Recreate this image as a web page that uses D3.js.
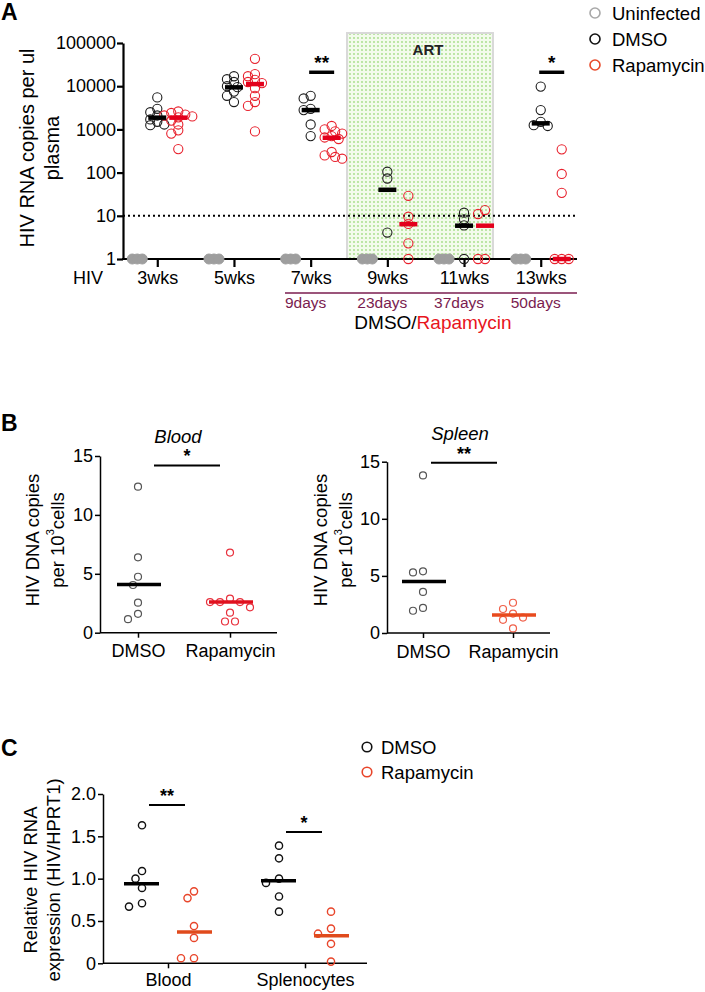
<!DOCTYPE html>
<html>
<head>
<meta charset="utf-8">
<script src="https://cdn.jsdelivr.net/npm/d3@7"></script>
<style>
  body { margin: 0; background: #fff; }
  svg { font-family: "Liberation Sans", Arial, Helvetica, sans-serif; }
</style>
</head>
<body>
<svg id="fig" width="705" height="992"></svg>
<script>
// ---- panel A : plasma viral load (log scale)
var weeks = ['3wks', '5wks', '7wks', '9wks', '11wks', '13wks'];
var artDays = ['9days', '23days', '37days', '50days'];
var decadeTicks = [1, 10, 100, 1000, 10000, 100000];
var limitA = 10;
var uninfA = [[1, 1, 1], [1, 1, 1], [1, 1, 1], [1, 1, 1], [1, 1, 1], [1, 1, 1]];
var dmsoA = [
  [5500, 3000, 2500, 2100, 1700, 1500, 1300, 1250],
  [17000, 14500, 12500, 10000, 9500, 7500, 6000, 4300],
  [6000, 5200, 3000, 2800, 1300, 700],
  [105, 73, 4.1],
  [11.8, 8.3, 6, 1],
  [9800, 2800, 1500, 1250, 1200]
];
var rapaA = [
  [2600, 2400, 2200, 2100, 2000, 1900, 1600, 1300, 950, 800, 350],
  [43000, 19000, 17000, 14000, 12500, 11800, 9000, 6000, 4300, 3500, 900],
  [1200, 1000, 900, 800, 700, 650, 600, 300, 250, 230, 210],
  [29, 9.5, 6.5, 2.3, 1],
  [13.6, 11, 1, 1],
  [345, 93, 34, 1, 1, 1]
];
var dmsoMedA = [1870, 9400, 2800, 40, 5.9, 1380];
var rapaMedA = [1870, 11200, 640, 6.4, 5.9, 1];
var sigA = [{ at: '7wks', mark: '**', v: 21000 }, { at: '13wks', mark: '*', v: 21000 }];

// ---- panel B : HIV DNA
var groupsB = ['DMSO', 'Rapamycin'];
var ticksB = [0, 5, 10, 15];
var bloodDmso = [12.4, 6.4, 4.75, 4.05, 2.55, 1.6, 1.15];
var bloodRapa = [6.8, 2.9, 2.6, 2.6, 2.6, 2.15, 1.7, 0.95, 0.95];
var spleenDmso = [13.8, 5.4, 5.3, 3.6, 2.2, 1.95];
var spleenRapa = [2.65, 2.1, 1.7, 1.35, 1.15, 0.4];
var bloodMed = [4.1, 2.6];
var spleenMed = [4.5, 1.57];
var bloodSig = { mark: '*', v: 14.2 };
var spleenSig = { mark: '**', v: 14.9 };

// ---- panel C : relative HIV RNA
var cats = ['Blood', 'Splenocytes'];
var ticksC = [0, 0.5, 1, 1.5, 2];
var dmsoC = [[1.63, 1.09, 1.0, 0.89, 0.71, 0.67], [1.39, 1.24, 1.0, 0.95, 0.79, 0.61]];
var rapaC = [[0.85, 0.77, 0.44, 0.30, 0.06, 0.06], [0.61, 0.41, 0.35, 0.23, 0.02]];
var dmsoMedC = [0.94, 0.975];
var rapaMedC = [0.37, 0.325];
var sigC = [{ mark: '**', v: 1.87 }, { mark: '*', v: 1.55 }];

var purple = '#7a1c4f';
var svg = d3.select('#fig');

// simple deterministic beeswarm: spread points sideways when they overlap
function swarm(vals, y, cx, minDist, step) {
  var pts = [];
  vals.forEach(function (v) {
    var py = y(v), px = cx;
    for (var i = 0; i < 60; i++) {
      var off = i === 0 ? 0 : Math.ceil(i / 2) * step * (i % 2 ? -1 : 1);
      px = cx + off;
      var ok = pts.every(function (p) { return Math.hypot(p.x - px, p.y - py) >= minDist; });
      if (ok) break;
    }
    pts.push({ x: px, y: py });
  });
  return pts;
}

function dots(g, pts, r, color, sw) {
  g.selectAll(null).data(pts).enter().append('circle')
    .attr('cx', function (d) { return d.x; })
    .attr('cy', function (d) { return d.y; })
    .attr('r', r)
    .attr('fill', 'none')
    .attr('stroke', color)
    .attr('stroke-width', sw);
}

function styleAxis(g, size, sw) {
  g.attr('font-size', null).attr('font-family', null);
  g.selectAll('text').attr('font-size', size).attr('fill', '#000');
  g.selectAll('line').attr('stroke', '#000').attr('stroke-width', sw);
  g.select('.domain').attr('stroke', '#000').attr('stroke-width', sw);
}

function rotLabel(lines, xs, cy, size) {
  lines.forEach(function (l, i) {
    var t = svg.append('text')
      .attr('transform', 'translate(' + xs[i] + ',' + cy + ') rotate(-90)')
      .attr('text-anchor', 'middle')
      .attr('dominant-baseline', 'central')
      .attr('font-size', size);
    l(t);
  });
}

function letter(txt, y) {
  svg.append('text').attr('x', 1).attr('y', y).attr('font-size', 23)
    .attr('font-weight', 'bold').text(txt);
}

// ================= A =================
letter('A', 20);
var xA = d3.scalePoint().domain(weeks).range([122, 576]).padding(0.46);
var yA = d3.scaleLog().domain([1, 100000]).range([259, 43]);

var defs = svg.append('defs');
var pat = defs.append('pattern').attr('id', 'artdots')
  .attr('width', 4).attr('height', 4).attr('patternUnits', 'userSpaceOnUse');
pat.append('rect').attr('width', 4).attr('height', 4).attr('fill', '#f3fbec');
pat.append('circle').attr('cx', 2).attr('cy', 2).attr('r', 0.9).attr('fill', '#a3dd85');

svg.append('rect')
  .attr('x', 347).attr('y', 33).attr('width', 146).attr('height', yA(1) - 33)
  .attr('fill', 'url(#artdots)').attr('stroke', '#d9d9d9').attr('stroke-width', 2);
svg.append('text').attr('x', 428).attr('y', 55).attr('text-anchor', 'middle')
  .attr('font-size', 15).attr('font-weight', 'bold').attr('fill', '#222').text('ART');

svg.append('line')
  .attr('x1', 123).attr('x2', 578).attr('y1', yA(limitA)).attr('y2', yA(limitA))
  .attr('stroke', '#000').attr('stroke-width', 2).attr('stroke-dasharray', '2,3');

var gyA = svg.append('g').attr('transform', 'translate(123,0)')
  .call(d3.axisLeft(yA).tickValues(decadeTicks).tickFormat(d3.format('d'))
    .tickSize(6).tickPadding(1).tickSizeOuter(0));
styleAxis(gyA, 18, 2.2);

var gxA = svg.append('g').attr('transform', 'translate(0,' + yA(1) + ')')
  .call(d3.axisBottom(xA).tickSize(8).tickPadding(4.5).tickSizeOuter(0));
styleAxis(gxA, 18, 2.2);
gxA.select('.domain').attr('d', 'M122,0H577');

svg.append('text').attr('x', 88).attr('y', 284).attr('text-anchor', 'middle')
  .attr('font-size', 18).text('HIV');

rotLabel([
  function (t) { t.text('HIV RNA copies per ul'); },
  function (t) { t.text('plasma'); }
], [27, 52], 148, 20);

weeks.forEach(function (w, i) {
  var cx = xA(w);
  // uninfected: stacked at the detection floor
  var ug = svg.append('g');
  uninfA[i].forEach(function (v, j) {
    ug.append('circle').attr('cx', cx - 20 + (j - 1) * 5).attr('cy', yA(v)).attr('r', 5)
      .attr('fill', '#9e9e9e').attr('stroke', '#9e9e9e');
  });
  dots(svg.append('g'), swarm(dmsoA[i], yA, cx, 5.5, 3.5), 4.6, '#1c1c1c', 1.1);
  dots(svg.append('g'), swarm(rapaA[i], yA, cx + 21, 5.5, 3.5), 4.6, '#e8202c', 1.1);
  svg.append('line').attr('x1', cx - 9).attr('x2', cx + 9)
    .attr('y1', yA(dmsoMedA[i])).attr('y2', yA(dmsoMedA[i]))
    .attr('stroke', '#000').attr('stroke-width', 4.5);
  svg.append('line').attr('x1', cx + 12).attr('x2', cx + 30)
    .attr('y1', yA(rapaMedA[i])).attr('y2', yA(rapaMedA[i]))
    .attr('stroke', '#e3001b').attr('stroke-width', 4.5);
});

sigA.forEach(function (s) {
  var c = xA(s.at) + 11;
  svg.append('line').attr('x1', c - 12.5).attr('x2', c + 12.5)
    .attr('y1', yA(s.v)).attr('y2', yA(s.v)).attr('stroke', '#000').attr('stroke-width', 3.5);
  svg.append('text').attr('x', c).attr('y', yA(s.v) - 3).attr('text-anchor', 'middle')
    .attr('font-size', 19).attr('font-weight', 'bold').text(s.mark);
});

// ART timeline under the axis
svg.append('line').attr('x1', 285).attr('x2', 577).attr('y1', 293).attr('y2', 293)
  .attr('stroke', purple).attr('stroke-width', 1.6);
artDays.forEach(function (d, i) {
  svg.append('text').attr('x', xA(weeks[i + 2]) - 5).attr('y', 308)
    .attr('text-anchor', 'middle').attr('font-size', 15.5).attr('fill', purple).text(d);
});
var dr = svg.append('text').attr('x', 433).attr('y', 329).attr('text-anchor', 'middle')
  .attr('font-size', 19);
dr.append('tspan').attr('fill', '#000').text('DMSO/');
dr.append('tspan').attr('fill', '#e8141c').text('Rapamycin');

// legend A
[['Uninfected', '#a8a8a8'], ['DMSO', '#111'], ['Rapamycin', '#e84a2a']].forEach(function (l, i) {
  var y = 13 + i * 26;
  svg.append('circle').attr('cx', 595).attr('cy', y).attr('r', 5)
    .attr('fill', 'none').attr('stroke', l[1]).attr('stroke-width', 1.6);
  svg.append('text').attr('x', 612).attr('y', y).attr('dominant-baseline', 'central')
    .attr('font-size', 18.5).text(l[0]);
});

// ================= B =================
letter('B', 431);

function panelB(o) {
  var x = d3.scalePoint().domain(groupsB).range(o.xr);
  var y = d3.scaleLinear().domain([0, 15]).range(o.yr);
  var gy = svg.append('g').attr('transform', 'translate(' + o.ax + ',0)')
    .call(d3.axisLeft(y).tickValues(ticksB).tickSize(5).tickPadding(2).tickSizeOuter(0));
  styleAxis(gy, 18, 1.5);
  var gx = svg.append('g').attr('transform', 'translate(0,' + y(0) + ')')
    .call(d3.axisBottom(x).tickSize(5).tickPadding(7).tickSizeOuter(0));
  styleAxis(gx, 18, 1.5);
  gx.select('.domain').attr('d', 'M' + o.ax + ',0H' + o.xEnd);

  dots(svg.append('g'), swarm(o.dmso, y, x('DMSO'), 9, 5), 3.5, '#555', 1.2);
  dots(svg.append('g'), swarm(o.rapa, y, x('Rapamycin'), 9, 5), 3.5, o.red, 1.2);
  [[o.med[0], x('DMSO') + 1, '#000'], [o.med[1], x('Rapamycin') + 1, o.redLine]].forEach(function (m) {
    svg.append('line').attr('x1', m[1] - 22).attr('x2', m[1] + 22)
      .attr('y1', y(m[0])).attr('y2', y(m[0])).attr('stroke', m[2]).attr('stroke-width', 3.5);
  });
  var c = (x('DMSO') + x('Rapamycin')) / 2 + o.sigShift;
  svg.append('line').attr('x1', c - 33).attr('x2', c + 33)
    .attr('y1', y(o.sig.v)).attr('y2', y(o.sig.v)).attr('stroke', '#000').attr('stroke-width', 2);
  svg.append('text').attr('x', c).attr('y', y(o.sig.v) - 3).attr('text-anchor', 'middle')
    .attr('font-size', 18).attr('font-weight', 'bold').text(o.sig.mark);
  svg.append('text').attr('x', o.titleX).attr('y', o.titleY).attr('text-anchor', 'middle')
    .attr('font-size', 18.5).attr('font-style', 'italic').text(o.title);

  rotLabel([
    function (t) { t.text('HIV DNA copies'); },
    function (t) {
      t.append('tspan').text('per 10');
      t.append('tspan').attr('font-size', 11).attr('dy', -7).text('3');
      t.append('tspan').attr('dy', 7).text('cells');
    }
  ], o.labX, 540, 18.5);
}

panelB({
  xr: [138, 230], yr: [632.7, 456], ax: 100, xEnd: 277,
  dmso: bloodDmso, rapa: bloodRapa, med: bloodMed, sig: bloodSig, sigShift: 3,
  red: '#e8303c', redLine: '#e0101e', title: 'Blood', titleX: 178, titleY: 443, labX: [32, 57]
});
panelB({
  xr: [423, 513], yr: [633, 461.7], ax: 387, xEnd: 550,
  dmso: spleenDmso, rapa: spleenRapa, med: spleenMed, sig: spleenSig, sigShift: -4,
  red: '#f0604a', redLine: '#e84a1e', title: 'Spleen', titleX: 460, titleY: 440, labX: [320, 345]
});

// ================= C =================
letter('C', 756);
var xC = d3.scalePoint().domain(cats).range([168, 305]);
var yC = d3.scaleLinear().domain([0, 2]).range([963.3, 794]);

var gyC = svg.append('g').attr('transform', 'translate(103,0)')
  .call(d3.axisLeft(yC).tickValues(ticksC)
    .tickFormat(function (d) { return d === 0 ? '0' : d3.format('.1f')(d); })
    .tickSize(5).tickPadding(2).tickSizeOuter(0));
styleAxis(gyC, 18, 1.5);
var gxC = svg.append('g').attr('transform', 'translate(0,' + yC(0) + ')')
  .call(d3.axisBottom(xC).tickSize(5).tickPadding(5).tickSizeOuter(0));
styleAxis(gxC, 18, 1.5);
gxC.select('.domain').attr('d', 'M103,0H367');

rotLabel([
  function (t) { t.text('Relative HIV RNA'); },
  function (t) { t.text('expression (HIV/HPRT1)'); }
], [30, 53], 880, 18.5);

cats.forEach(function (c, i) {
  var cx = xC(c);
  dots(svg.append('g'), swarm(dmsoC[i], yC, cx - 26, 9, 6.5), 3.6, '#111', 1.4);
  dots(svg.append('g'), swarm(rapaC[i], yC, cx + 26, 9, 6.5), 3.6, '#e8452a', 1.4);
  svg.append('line').attr('x1', cx - 44).attr('x2', cx - 9)
    .attr('y1', yC(dmsoMedC[i])).attr('y2', yC(dmsoMedC[i]))
    .attr('stroke', '#000').attr('stroke-width', 3.5);
  svg.append('line').attr('x1', cx + 9).attr('x2', cx + 44)
    .attr('y1', yC(rapaMedC[i])).attr('y2', yC(rapaMedC[i]))
    .attr('stroke', '#e04a1c').attr('stroke-width', 3.5);
  var sx = cx - 1;
  svg.append('line').attr('x1', sx - 18).attr('x2', sx + 18)
    .attr('y1', yC(sigC[i].v)).attr('y2', yC(sigC[i].v)).attr('stroke', '#000').attr('stroke-width', 2);
  svg.append('text').attr('x', sx).attr('y', yC(sigC[i].v) - 3).attr('text-anchor', 'middle')
    .attr('font-size', 18).attr('font-weight', 'bold').text(sigC[i].mark);
});

[['DMSO', '#111'], ['Rapamycin', '#e8452a']].forEach(function (l, i) {
  var y = 747 + i * 25;
  svg.append('circle').attr('cx', 367).attr('cy', y).attr('r', 4.8)
    .attr('fill', 'none').attr('stroke', l[1]).attr('stroke-width', 1.6);
  svg.append('text').attr('x', 381).attr('y', y).attr('dominant-baseline', 'central')
    .attr('font-size', 18.5).text(l[0]);
});
</script>
</body>
</html>
